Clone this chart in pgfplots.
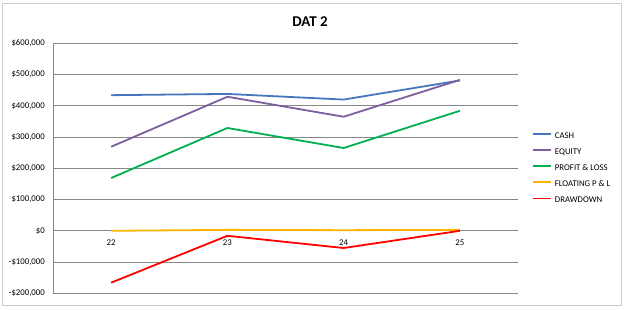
\documentclass[border=0pt]{standalone}
\usepackage{fontspec}
\setmainfont{Carlito}
\usepackage{pgfplots}
\pgfplotsset{compat=1.18}
\definecolor{cashc}{HTML}{4677BE}
\definecolor{equityc}{HTML}{7D5FA0}
\definecolor{plc}{HTML}{00B050}
\definecolor{floatc}{HTML}{FFB400}
\definecolor{ddc}{HTML}{FF0000}
\definecolor{gridc}{HTML}{878787}
\definecolor{borderc}{HTML}{C8CDD4}
\begin{document}
\begin{tikzpicture}[x=1bp,y=1bp]
\path[use as bounding box] (0,0) rectangle (625,309);
\fill[white] (0,0) rectangle (625,309);
\draw[borderc, line width=1bp] (2,4) rectangle (621,305);
\node[font=\fontsize{15}{18}\selectfont\bfseries] at (310,287) {DAT 2};
\begin{axis}[
  at={(53bp,15.7bp)}, anchor=south west,
  scale only axis, width=465bp, height=250bp,
  xmin=21.5, xmax=25.5, ymin=-200000, ymax=600000,
  axis x line*=middle, axis y line*=left,
  x axis line style={draw=none},
  y axis line style={gridc, line width=0.9bp},
  xtick={22,23,24,25}, xticklabels={22,23,24,25},
  ytick={-200000,-100000,0,100000,200000,300000,400000,500000,600000},
  yticklabels={{-\$200,000},{-\$100,000},{\$0},{\$100,000},{\$200,000},{\$300,000},{\$400,000},{\$500,000},{\$600,000}},
  scaled y ticks=false,
  /pgf/number format/assume math mode=true,
  major tick length=0pt,
  ymajorgrids, grid style={gridc, line width=0.9bp},
  tick label style={font=\fontsize{8.8}{10}\selectfont},
  yticklabel style={inner sep=0pt, xshift=-8bp},
  xticklabel style={inner sep=0pt, yshift=-8.5bp},
  clip=false,
  legend style={at={(1.03,0.5)}, anchor=west, draw=none, fill=none,
    inner sep=0pt, row sep=7.7bp,
    font=\fontsize{8.8}{10}\selectfont,
    nodes={inner sep=0pt, text height=6.5bp, text depth=2bp}},
  legend cell align=left,
  legend image code/.code={\draw[#1] (0bp,2.3bp) -- (18bp,2.3bp);},
  every axis plot/.append style={line width=1.8bp},
]
\addplot[cashc] coordinates {(22,434000) (23,438000) (24,420000) (25,481000)};
\addlegendentry{\hspace{3bp}CASH}
\addplot[equityc] coordinates {(22,269000) (23,429000) (24,365000) (25,483000)};
\addlegendentry{\hspace{3bp}EQUITY}
\addplot[plc] coordinates {(22,169000) (23,329000) (24,265000) (25,384000)};
\addlegendentry{\hspace{3bp}PROFIT \& LOSS}
\addplot[floatc] coordinates {(22,0) (23,3000) (24,2000) (25,3000)};
\addlegendentry{\hspace{3bp}FLOATING P \& L}
\addplot[ddc] coordinates {(22,-166000) (23,-16000) (24,-55000) (25,0)};
\addlegendentry{\hspace{3bp}DRAWDOWN}
\end{axis}
\end{tikzpicture}
\end{document}
